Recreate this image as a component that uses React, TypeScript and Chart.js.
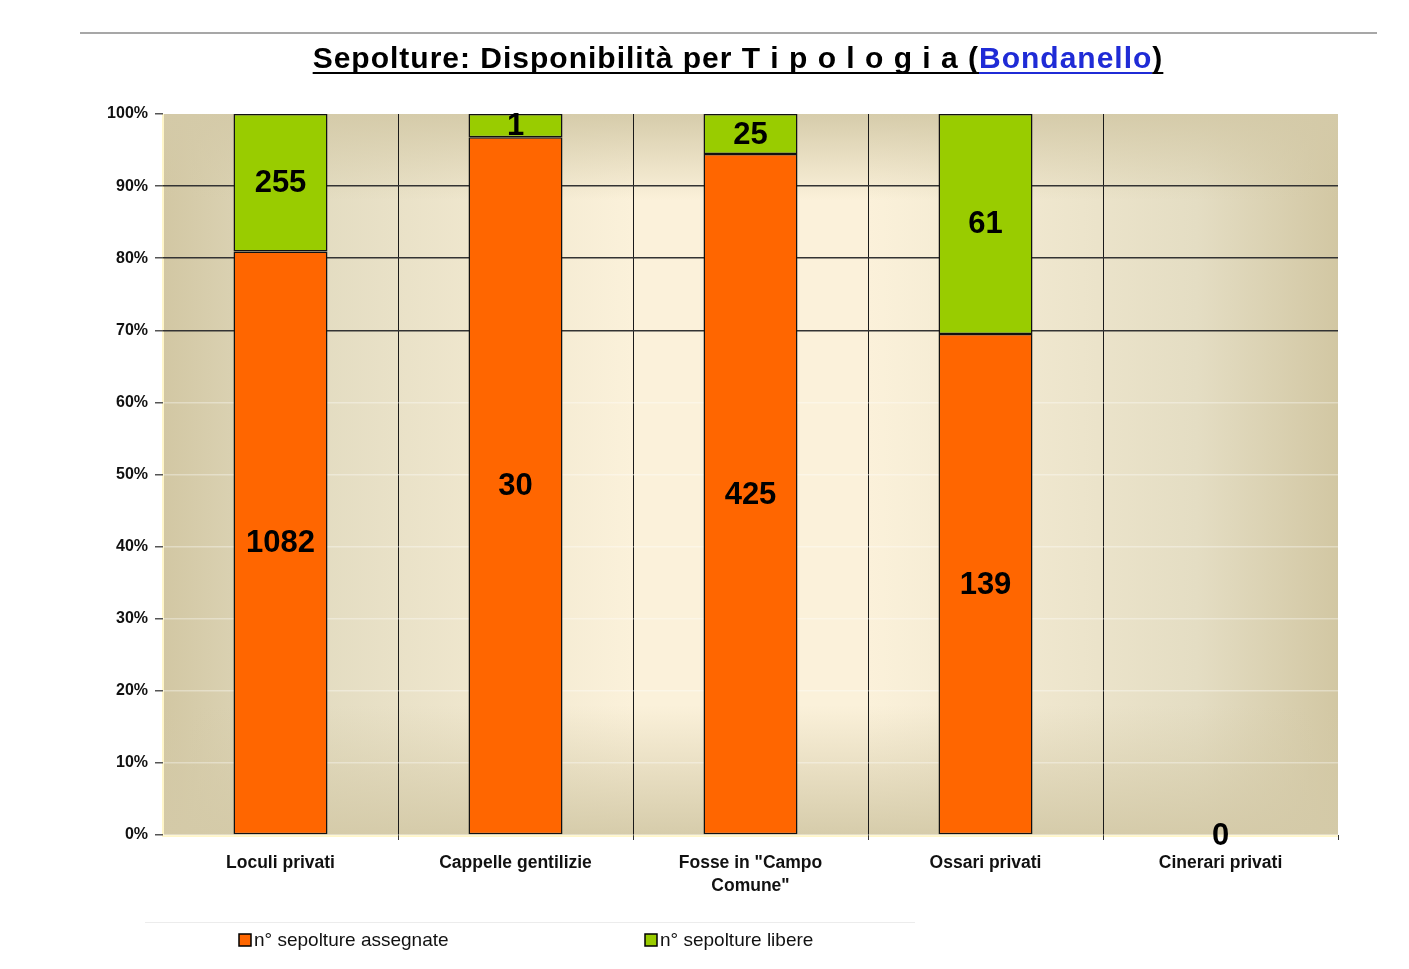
import React, { useEffect, useRef } from "react";
import { Chart, registerables } from "chart.js";

Chart.register(...registerables);

const categories: (string | string[])[] = [
  "Loculi privati",
  "Cappelle gentilizie",
  ['Fosse in "Campo', 'Comune"'],
  "Ossari privati",
  "Cinerari privati",
];
const assegnate = [1082, 30, 425, 139, 0];
const libere = [255, 1, 25, 61, 0];
const seriesNames = ["n° sepolture assegnate", "n° sepolture libere"];
const seriesColors = ["#ff6600", "#99cc00"];
const yTicks = [0, 10, 20, 30, 40, 50, 60, 70, 80, 90, 100];

const pct = (a: number[], b: number[]) =>
  a.map((v, i) => (a[i] + b[i] === 0 ? 0 : (v / (a[i] + b[i])) * 100));

const FONT = "'Liberation Sans', Arial, sans-serif";

export default function App() {
  const ref = useRef<HTMLCanvasElement | null>(null);
  useEffect(() => {
    const canvas = ref.current!;
    const raw = [assegnate, libere];

    const bgPlugin = {
      id: "bg",
      beforeDraw(chart: any) {
        const { ctx, chartArea: a } = chart;
        ctx.save();
        const h = ctx.createLinearGradient(a.left, 0, a.right, 0);
        h.addColorStop(0, "#d2c7a3");
        h.addColorStop(0.12, "#e2dbc0");
        h.addColorStop(0.4, "#fbf1da");
        h.addColorStop(0.6, "#fbf1da");
        h.addColorStop(0.88, "#e4ddc3");
        h.addColorStop(1, "#d2c7a3");
        ctx.fillStyle = h;
        ctx.fillRect(a.left, a.top, a.right - a.left, a.bottom - a.top);
        const v = ctx.createLinearGradient(0, a.top, 0, a.bottom);
        v.addColorStop(0, "rgba(212,202,168,0.95)");
        v.addColorStop(0.12, "rgba(212,202,168,0)");
        v.addColorStop(0.82, "rgba(212,202,168,0)");
        v.addColorStop(1, "rgba(212,202,168,0.95)");
        ctx.fillStyle = v;
        ctx.fillRect(a.left, a.top, a.right - a.left, a.bottom - a.top);
        ctx.strokeStyle = "#fff6c8";
        ctx.lineWidth = 2;
        ctx.beginPath();
        ctx.moveTo(a.left, a.top);
        ctx.lineTo(a.left, a.bottom + 1);
        ctx.lineTo(a.right, a.bottom + 1);
        ctx.stroke();
        ctx.strokeStyle = "#8a8a8a";
        ctx.lineWidth = 1.5;
        ctx.beginPath();
        ctx.moveTo(80, 33);
        ctx.lineTo(1377, 33);
        ctx.stroke();
        ctx.strokeStyle = "#ececec";
        ctx.lineWidth = 1;
        ctx.beginPath();
        ctx.moveTo(145, 922.5);
        ctx.lineTo(915, 922.5);
        ctx.stroke();
        ctx.restore();
      },
    };

    const textPlugin = {
      id: "texts",
      afterDraw(chart: any) {
        const { ctx } = chart;
        ctx.save();
        const parts = [
          { t: "Sepolture: Disponibilità per T i p o l o g i a (", c: "#000" },
          { t: "Bondanello", c: "#1f2bd6" },
          { t: ")", c: "#000" },
        ];
        ctx.font = `bold 30px ${FONT}`;
        (ctx as any).letterSpacing = "1px";
        const widths = parts.map((p) => ctx.measureText(p.t).width);
        const total = widths.reduce((s, w) => s + w, 0);
        let x = 738 - total / 2;
        const by = 68;
        ctx.textBaseline = "alphabetic";
        ctx.textAlign = "left";
        parts.forEach((p, i) => {
          ctx.fillStyle = p.c;
          ctx.fillText(p.t, x, by);
          ctx.fillRect(x, by + 4, widths[i], 2);
          x += widths[i];
        });
        (ctx as any).letterSpacing = "0px";
        ctx.font = `bold 31px ${FONT}`;
        ctx.fillStyle = "#000";
        ctx.textAlign = "center";
        ctx.textBaseline = "middle";
        chart.data.datasets.forEach((ds: any, di: number) => {
          const meta = chart.getDatasetMeta(di);
          meta.data.forEach((el: any, i: number) => {
            const val = raw[di][i];
            if (val === 0 && di > 0) return;
            const cy = (el.y + el.base) / 2;
            ctx.fillText(String(val), el.x, cy + 1);
          });
        });
        const items = [
          { x: 239, label: seriesNames[0], color: seriesColors[0] },
          { x: 645, label: seriesNames[1], color: seriesColors[1] },
        ];
        ctx.font = `19px ${FONT}`;
        ctx.textAlign = "left";
        ctx.textBaseline = "middle";
        items.forEach((it) => {
          ctx.fillStyle = it.color;
          ctx.fillRect(it.x, 934, 12, 12);
          ctx.strokeStyle = "#000";
          ctx.lineWidth = 1.5;
          ctx.strokeRect(it.x, 934, 12, 12);
          ctx.fillStyle = "#111";
          ctx.fillText(it.label, it.x + 15, 941);
        });
        ctx.restore();
      },
    };

    const chart = new Chart(canvas, {
      type: "bar",
      data: {
        labels: categories,
        datasets: [
          {
            label: seriesNames[0],
            data: pct(assegnate, libere),
            backgroundColor: seriesColors[0],
            borderColor: "#111",
            borderWidth: 1.5,
            borderSkipped: false,
          },
          {
            label: seriesNames[1],
            data: pct(libere, assegnate),
            backgroundColor: seriesColors[1],
            borderColor: "#111",
            borderWidth: 1.5,
            borderSkipped: false,
          },
        ],
      },
      options: {
        animation: false,
        responsive: false,
        layout: { padding: { top: 114, right: 71, left: 0, bottom: 0 } },
        datasets: { bar: { categoryPercentage: 1, barPercentage: 0.4 } },
        plugins: { legend: { display: false }, title: { display: false }, tooltip: { enabled: false } },
        scales: {
          x: {
            stacked: true,
            offset: true,
            border: { display: false },
            grid: {
              offset: true,
              color: (c: any) => (c.index >= 1 && c.index <= 4 ? "#1a1a1a" : "rgba(0,0,0,0)"),
              tickColor: (c: any) => (c.index === 0 ? "rgba(0,0,0,0)" : "#333"),
              lineWidth: 1,
              tickLength: 5,
            },
            ticks: {
              color: "#111",
              font: { family: FONT, size: 17.5, weight: "bold", lineHeight: 1.3 },
              padding: 12,
              maxRotation: 0,
              autoSkip: false,
            },
            afterFit: (s: any) => {
              s.height = 134;
            },
          },
          y: {
            stacked: true,
            min: 0,
            max: 100,
            afterBuildTicks: (s: any) => {
              s.ticks = yTicks.map((v) => ({ value: v }));
            },
            border: { display: false },
            grid: {
              color: (c: any) =>
                c.tick && c.tick.value >= 70 && c.tick.value < 100
                  ? "#333"
                  : c.tick && c.tick.value === 100
                  ? "rgba(0,0,0,0)"
                  : "rgba(255,255,255,0.35)",
              tickColor: "#555",
              tickLength: 8,
              lineWidth: 1.5,
            },
            ticks: {
              color: "#111",
              font: { family: FONT, size: 16, weight: "bold" },
              padding: 7,
              callback: (v: any) => v + "%",
            },
            afterFit: (s: any) => {
              s.width = 163;
            },
          },
        },
      } as any,
      plugins: [bgPlugin, textPlugin],
    });
    return () => chart.destroy();
  }, []);
  return (
    <div style={{ position: "absolute", left: 0, top: 0, width: 1409, height: 969, background: "#fff" }}>
      <canvas ref={ref} width={1409} height={969} />
    </div>
  );
}
